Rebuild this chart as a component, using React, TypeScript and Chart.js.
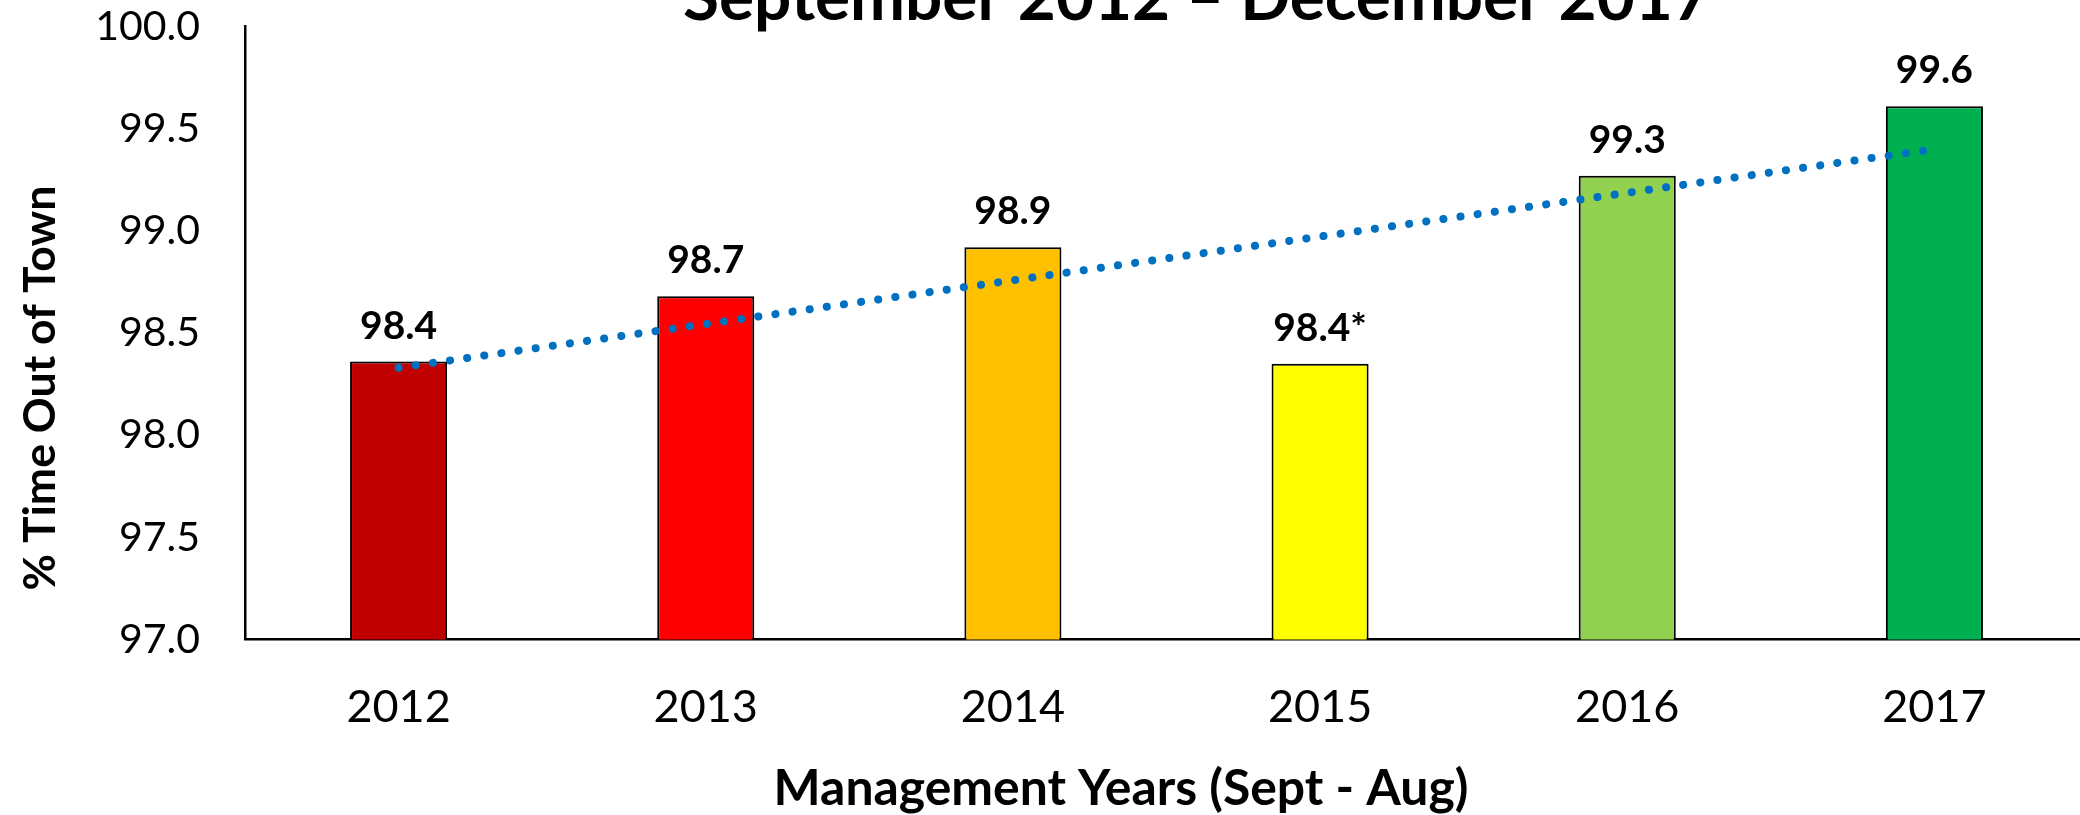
import React, { useEffect, useRef } from "react";
import { Chart, registerables } from "chart.js";

Chart.register(...registerables);

// ---------- data ----------
const categories = ["2012", "2013", "2014", "2015", "2016", "2017"];
const values = [98.36, 98.68, 98.92, 98.35, 99.27, 99.61];
const valueLabels = ["98.4", "98.7", "98.9", "98.4*", "99.3", "99.6"];
const barColors = ["#C00000", "#FF0000", "#FFC000", "#FFFF00", "#92D050", "#00B050"];
// linear trendline as read at its two ends (first and last category)
const trendValues: (number | null)[] = [98.33, null, null, null, null, 99.4];
const yMin = 97;
const yMax = 100;
const yStep = 0.5;
const titleText = "September 2012 \u2013 December 2017";
const xTitleText = "Management Years (Sept - Aug)";
const yTitleText = "% Time Out of Town";

const CANVAS_W = 2090;
const CANVAS_H = 815;

function fitText(ctx: CanvasRenderingContext2D, text: string, x: number, y: number, width: number, weight: string, family: string) {
  ctx.font = `${weight} 100px ${family}`;
  const w = ctx.measureText(text).width;
  const size = (100 * width) / w;
  ctx.font = `${weight} ${size}px ${family}`;
  ctx.fillText(text, x, y);
}

const textPlugin = {
  id: "customText",
  afterDatasetsDraw(chart: any) {
    const ctx: CanvasRenderingContext2D = chart.ctx;
    const meta = chart.getDatasetMeta(1);
    ctx.save();
    ctx.fillStyle = "#000";
    ctx.textAlign = "center";
    ctx.textBaseline = "alphabetic";
    ctx.font = "bold 39px Lato";
    meta.data.forEach((bar: any, i: number) => {
      ctx.fillText(valueLabels[i], bar.x, bar.y - 23);
    });
    // chart title (top cut off as in reference)
    fitText(ctx, titleText, 1197, 20, 1028, "bold", "Lato");
    // x axis title
    fitText(ctx, xTitleText, 1121, 805, 695, "bold", "Lato");
    // y axis title
    ctx.translate(55, 388);
    ctx.rotate(-Math.PI / 2);
    fitText(ctx, yTitleText, 0, 0, 405, "bold", "Lato");
    ctx.restore();
  },
};

export default function App() {
  const canvasRef = useRef<HTMLCanvasElement | null>(null);

  useEffect(() => {
    document.body.style.margin = "0";
    document.body.style.overflow = "hidden";
    let chart: Chart | null = null;
    let cancelled = false;

    const build = () => {
      if (cancelled || !canvasRef.current) return;
      Chart.defaults.font.family = "Lato";
      chart = new Chart(canvasRef.current, {
        type: "bar",
        data: {
          labels: categories,
          datasets: [
            {
              type: "line",
              data: trendValues,
              spanGaps: true,
              borderColor: "#0070C0",
              borderWidth: 8,
              borderDash: [0.1, 17.2],
              borderCapStyle: "round",
              pointRadius: 0,
              fill: false,
              tension: 0,
              order: 0,
            } as any,
            {
              type: "bar",
              data: values,
              backgroundColor: barColors,
              borderColor: "#000",
              borderWidth: 2,
              barPercentage: 0.316,
              categoryPercentage: 1,
              order: 1,
            } as any,
          ],
        },
        options: {
          responsive: false,
          animation: false,
          devicePixelRatio: 1,
          layout: { padding: { top: 26.5, right: 2, bottom: 0, left: 0 } },
          plugins: {
            legend: { display: false },
            tooltip: { enabled: false },
            title: { display: false },
          },
          scales: {
            x: {
              type: "category",
              offset: true,
              grid: { display: false, drawTicks: false },
              border: { display: true, color: "#000", width: 2.5 },
              ticks: {
                color: "#000",
                font: { family: "Lato", size: 45 },
                padding: 41,
                maxRotation: 0,
                autoSkip: false,
              },
              afterFit: (s: any) => {
                s.height = 175.5;
                s.paddingLeft = 0;
                s.paddingRight = 0;
              },
            },
            y: {
              min: yMin,
              max: yMax,
              grid: { display: false, drawTicks: false },
              border: { display: true, color: "#000", width: 2.5 },
              ticks: {
                stepSize: yStep,
                color: "#000",
                font: { family: "Lato", size: 41 },
                padding: 45,
                callback: (v: any) => Number(v).toFixed(1),
              },
              afterFit: (s: any) => {
                s.width = 245;
                s.paddingTop = 0;
                s.paddingBottom = 0;
              },
            },
          },
        },
        plugins: [textPlugin],
      });
    };

    const fontsReady = (document as any).fonts
      ? Promise.all([
          (document as any).fonts.load("45px Lato"),
          (document as any).fonts.load("bold 36px Lato"),
        ]).catch(() => null)
      : Promise.resolve(null);
    fontsReady.then(build);

    return () => {
      cancelled = true;
      if (chart) chart.destroy();
    };
  }, []);

  return (
    <div style={{ width: 2080, height: 815, overflow: "hidden", position: "relative", background: "#fff" }}>
      <canvas
        ref={canvasRef}
        width={CANVAS_W}
        height={CANVAS_H}
        style={{ display: "block", width: CANVAS_W, height: CANVAS_H }}
      />
    </div>
  );
}
